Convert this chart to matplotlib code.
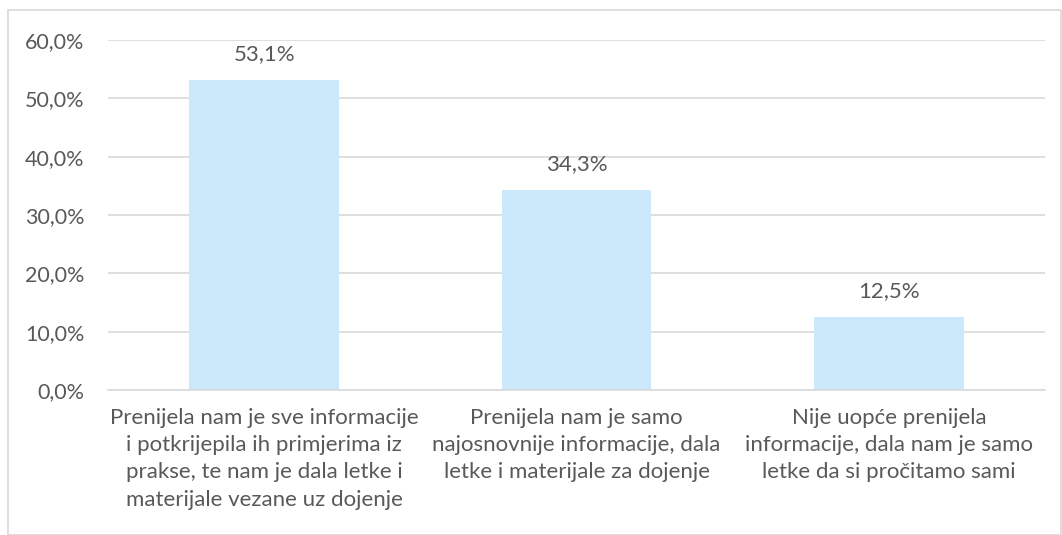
import matplotlib.pyplot as plt
from matplotlib.patches import Rectangle

# Data
categories = [
    'Prenijela nam je sve informacije\ni potkrijepila ih primjerima iz\nprakse, te nam je dala letke i\nmaterijale vezane uz dojenje',
    'Prenijela nam je samo\nnajosnovnije informacije, dala\nletke i materijale za dojenje',
    'Nije uopće prenijela\ninformacije, dala nam je samo\nletke da si pročitamo sami',
]
values = [53.1, 34.3, 12.5]
yticks = [0, 10, 20, 30, 40, 50, 60]

text_color = '#595959'
plt.rcParams['font.family'] = ['Lato', 'DejaVu Sans']

fig = plt.figure(figsize=(10.62, 5.35), dpi=100)
ax = fig.add_axes([0.1017, 0.271, 0.8823, 0.654])

x = range(len(values))
ax.bar(x, values, width=0.48, color='#CCE9FC', zorder=2)
for i, v in enumerate(values):
    ax.text(i, v + 4.5, f'{v:.1f}%'.replace('.', ','), ha='center', va='center',
            fontsize=16, color=text_color)

ax.set_xlim(-0.5, 2.5)
ax.set_ylim(0, 60)
ax.set_yticks(yticks)
ax.set_yticklabels([f'{t:.1f}%'.replace('.', ',') for t in yticks], fontsize=15.5, color=text_color)
ax.set_xticks(list(x))
ax.set_xticklabels(categories, fontsize=16, color=text_color, linespacing=1.45, va='top')
ax.tick_params(axis='both', length=0)
ax.tick_params(axis='y', pad=17)
ax.tick_params(axis='x', pad=13)
ax.grid(axis='y', color='#D9D9D9', linewidth=1.2, zorder=0)
for s in ['top', 'right', 'left']:
    ax.spines[s].set_visible(False)
ax.spines['bottom'].set_color('#D9D9D9')
ax.spines['bottom'].set_linewidth(1.2)

# outer chart border
fig.patches.append(Rectangle((8 / 1062, 0), 1053 / 1062, 1 - 10 / 535, transform=fig.transFigure,
                             fill=False, edgecolor='#D9D9D9', linewidth=1.2))

fig.savefig('out.png', dpi=100)
